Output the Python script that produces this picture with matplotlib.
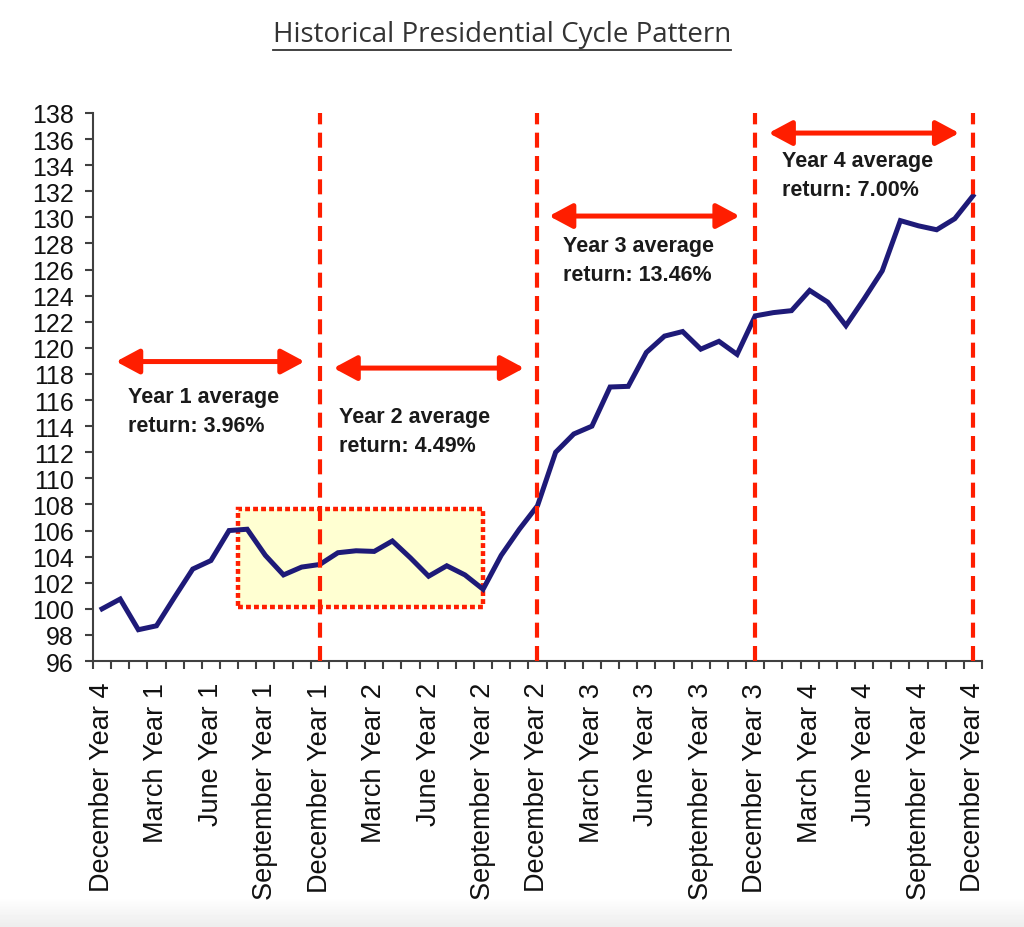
import matplotlib
matplotlib.use("Agg")
import numpy as np
import matplotlib.pyplot as plt
from matplotlib.patches import Rectangle
from matplotlib.lines import Line2D

# monthly index, December Year 4 (previous cycle) = 100
values = [100.0, 100.75, 98.4, 98.7, 100.9, 103.05, 103.7, 106.0, 106.1, 104.1,
          102.6, 103.2, 103.4, 104.3, 104.45, 104.4, 105.2, 103.9, 102.5, 103.3,
          102.6, 101.5, 104.1, 106.1, 107.9, 112.0, 113.4, 114.0, 117.0, 117.05,
          119.65, 120.9, 121.25, 119.9, 120.5, 119.5, 122.45, 122.7, 122.85, 124.4,
          123.5, 121.7, 123.75, 125.9, 129.75, 129.35, 129.05, 129.9, 131.65]

month_labels = ["December Year 4", "March Year 1", "June Year 1", "September Year 1",
                "December Year 1", "March Year 2", "June Year 2", "September Year 2",
                "December Year 2", "March Year 3", "June Year 3", "September Year 3",
                "December Year 3", "March Year 4", "June Year 4", "September Year 4",
                "December Year 4"]

year_ends = [12, 24, 36, 48]
year_line1 = ["Year 1 average", "Year 2 average", "Year 3 average", "Year 4 average"]
year_line2 = ["return: 3.96%", "return: 4.49%", "return: 13.46%", "return: 7.00%"]
# arrow spans (x0, x1, y) and text anchors (x, baseline y of first line)
arrow_spans = [(0.77, 11.16, 118.95), (12.76, 23.26, 118.45),
               (24.64, 35.14, 130.1), (36.74, 47.24, 136.46)]
text_pos = [(1.44, 115.85), (13.04, 114.3), (25.4, 127.4), (37.5, 133.9)]
line_gap = 2.22  # second text line, in index points

# highlighted Sept Year 1 - Sept Year 2 box
box_x = (7.47, 20.98)
box_y = (100.15, 107.65)

RED = "#FF1E00"
NAVY = "#1E1A78"

fig = plt.figure(figsize=(10.24, 9.28), dpi=100)

# faint grey fade at the bottom edge (screenshot look)
bg = fig.add_axes([0, 0, 1, 30 / 928], zorder=-5)
bg.imshow(np.linspace(0.93, 1.0, 30).reshape(-1, 1)[::-1][::-1], cmap="gray",
          vmin=0, vmax=1, aspect="auto", extent=(0, 1, 0, 1), origin="lower")
bg.axis("off")

ax = fig.add_axes([0.0908, 0.2866, 0.9590 - 0.0908, 0.8772 - 0.2866])
ax.patch.set_alpha(0)

x = np.arange(len(values))

ax.add_patch(Rectangle((box_x[0], box_y[0]), box_x[1] - box_x[0], box_y[1] - box_y[0],
                       facecolor="#FFFFD2", edgecolor=RED, lw=3.2,
                       linestyle=(0, (1.1, 0.7)), zorder=1))

ax.plot(x, values, color=NAVY, lw=3.6, solid_joinstyle="miter", zorder=3)

for xe in year_ends:
    ax.axvline(xe, color=RED, lw=3, linestyle=(0, (3.6, 2.0)), zorder=4)

for (x0, x1, ya) in arrow_spans:
    ax.annotate("", xy=(x1, ya), xytext=(x0, ya),
                arrowprops=dict(arrowstyle="<|-|>,head_length=14,head_width=7.5",
                                mutation_scale=1, color=RED, lw=3.6,
                                shrinkA=0, shrinkB=0), zorder=5)

for (tx, ty), s1, s2 in zip(text_pos, year_line1, year_line2):
    for yy, s in [(ty, s1), (ty - line_gap, s2)]:
        ax.text(tx, yy, s, ha="left", va="baseline", fontsize=15.5, fontweight="bold",
                family="Liberation Sans", color="#1a1a1a")

ax.set_xlim(-0.5, len(values) - 0.5)
ax.set_ylim(96, 138)
ax.set_yticks(np.arange(96, 139, 2))
ax.set_xticks(np.arange(0, len(values), 3))
ax.set_xticklabels(month_labels, rotation=90)
ax.set_xticks(np.arange(-0.5, len(values)), minor=True)

for sp in ["top", "right"]:
    ax.spines[sp].set_visible(False)
for sp in ["left", "bottom"]:
    ax.spines[sp].set_color("#404040")
    ax.spines[sp].set_linewidth(1.5)

ax.tick_params(axis="y", direction="out", length=6, width=1.5, color="#404040",
               pad=8, labelsize=18, labelcolor="#111111")
ax.tick_params(axis="x", which="major", length=0, pad=15, labelsize=19.5,
               labelcolor="#111111")
ax.tick_params(axis="x", which="minor", direction="out", length=6, width=1.5,
               color="#404040")
for lab in ax.get_xticklabels() + ax.get_yticklabels():
    lab.set_family("Liberation Sans")

title = fig.text(0.49, 1 - 42 / 928, "Historical Presidential Cycle Pattern",
                 ha="center", va="baseline", fontsize=20, family="Open Sans",
                 color="#333333")
fig.canvas.draw()
bb = title.get_window_extent()
uy = bb.y0 - 2
fig.add_artist(Line2D([bb.x0 / fig.bbox.width, bb.x1 / fig.bbox.width],
                      [uy / fig.bbox.height, uy / fig.bbox.height],
                      color="#333333", lw=1.3, transform=fig.transFigure))

fig.savefig("out.png", dpi=100)
